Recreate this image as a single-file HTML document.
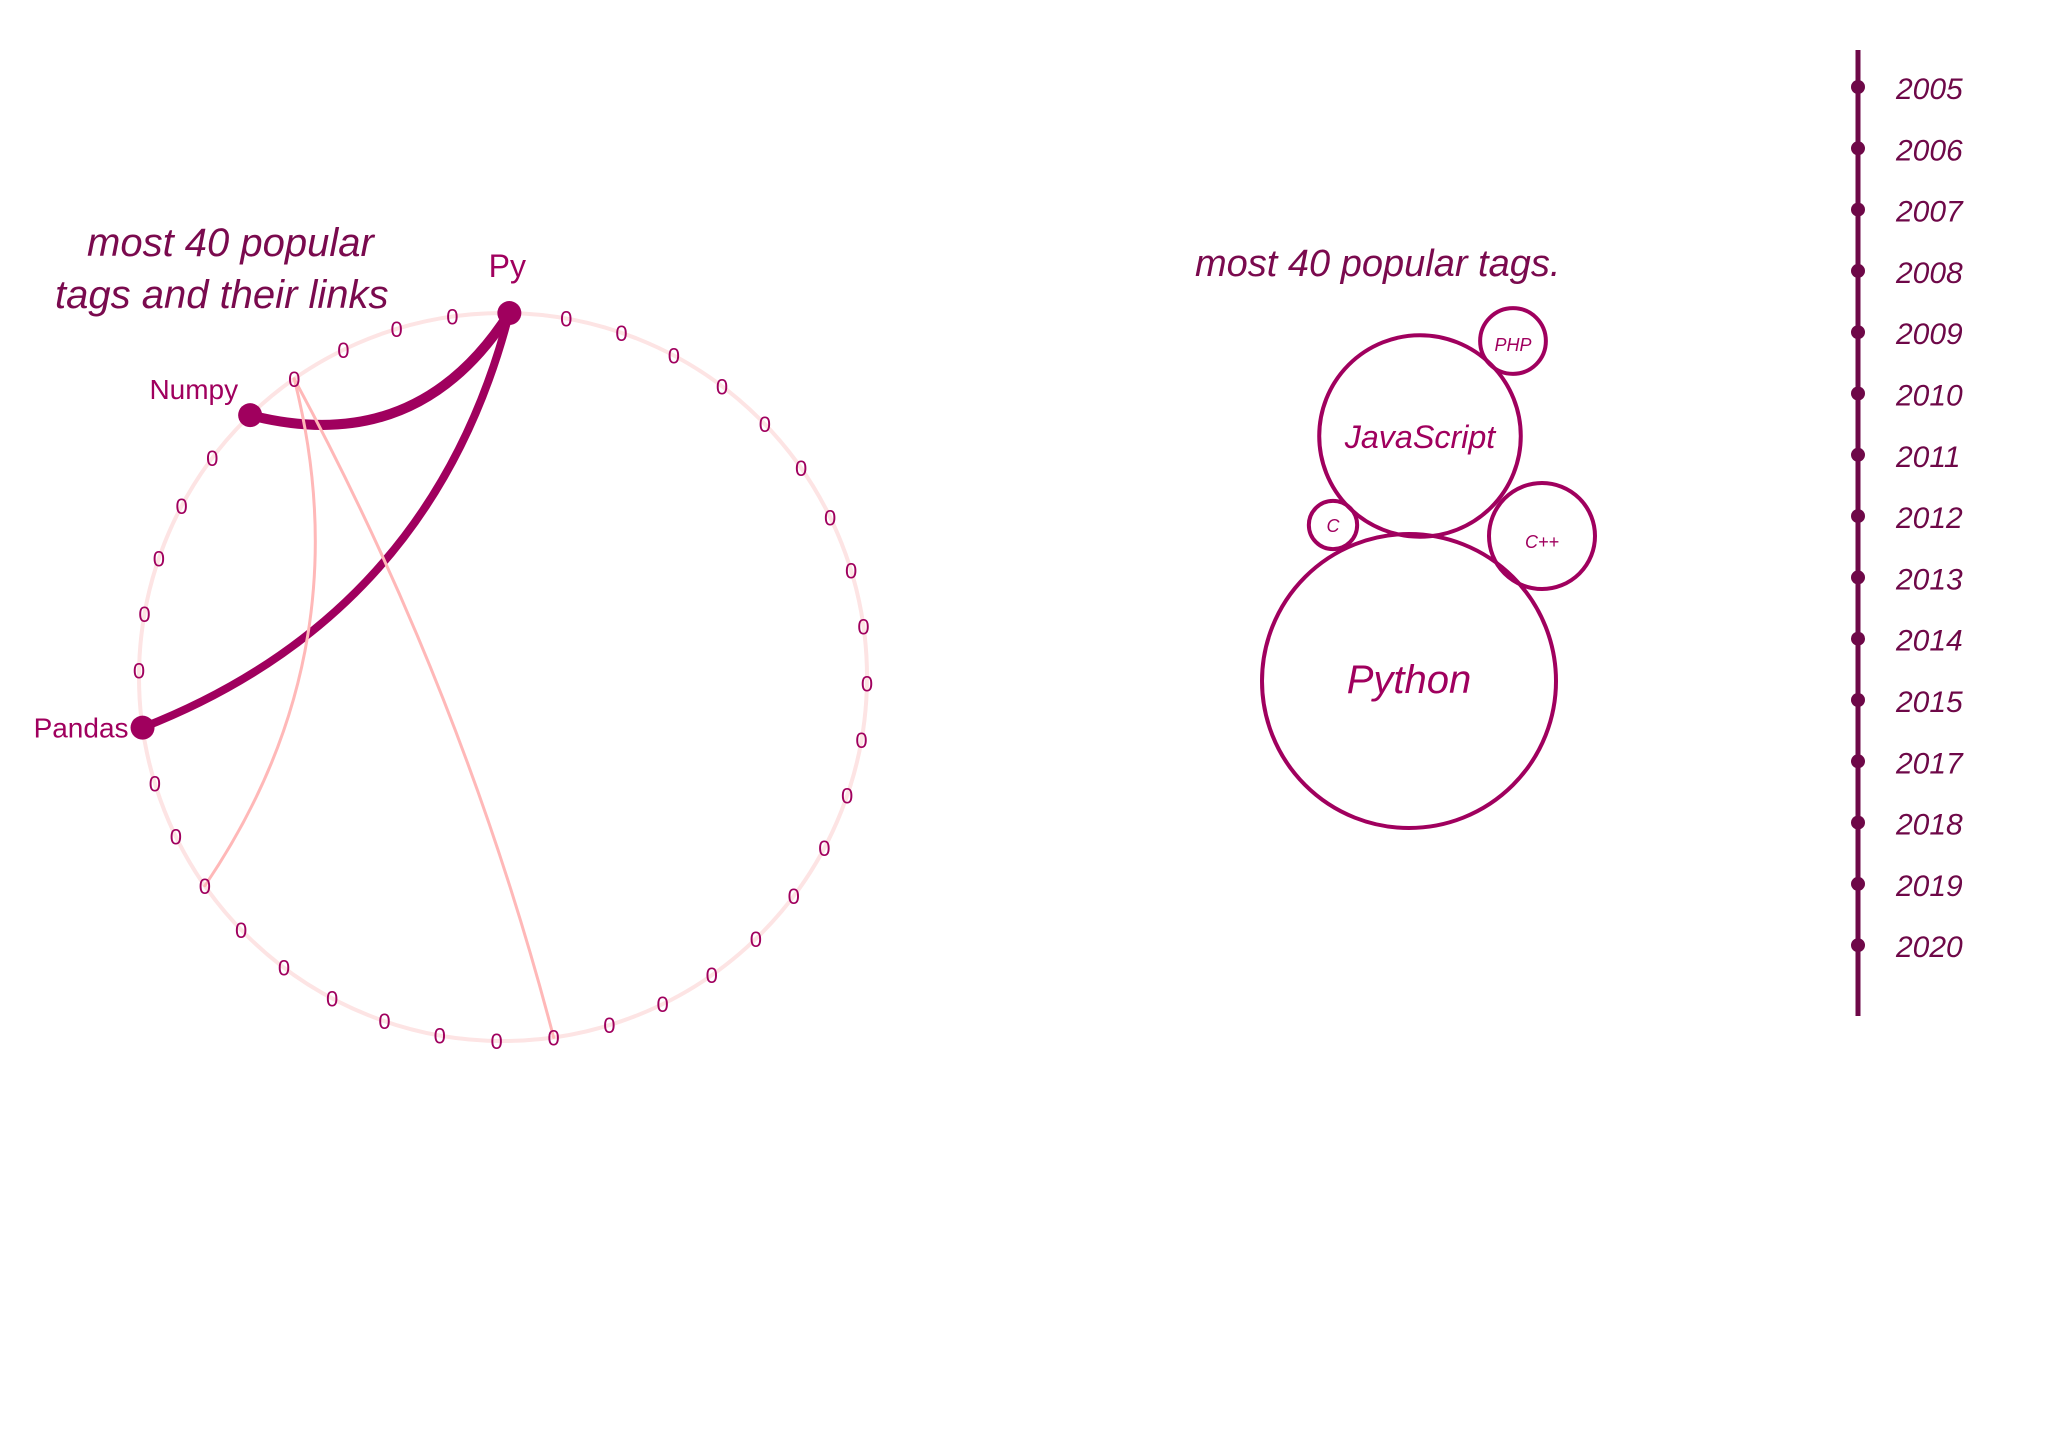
<!DOCTYPE html>
<html><head><meta charset="utf-8"><style>
html,body{margin:0;padding:0;background:#fff;}
svg{display:block;}
text{font-family:"Liberation Sans",sans-serif;}
</style></head><body>
<svg id="chart" width="2049" height="1449" viewBox="0 0 2049 1449">
<g>
<text x="87" y="256" font-size="40" fill="#7a0a4e" font-style="italic">most 40 popular</text>
<text x="55" y="308" font-size="40" fill="#7a0a4e" font-style="italic">tags and their links</text>
<circle cx="503" cy="677" r="364" fill="none" stroke="#fde4e4" stroke-width="4"/>
<g id="links"></g>
<g id="nodes"></g>
</g>
<g>
<text x="1195" y="276" font-size="38" fill="#7a0a4e" font-style="italic">most 40  popular  tags.</text>
<g id="bubbles"></g>
<g id="timeline"></g>
</g>
</svg>
<script>
const NS="http://www.w3.org/2000/svg";
// chord data
const nodeCount=40;
const namedNodes=[0,5,11];
const nodeLabels=["Py","Numpy","Pandas"];
const linkSource=[0,0,4,4];
const linkTarget=[5,11,14,21];
const linkWeight=[10,8,2,2];
const linkBend=[0.3,0.6,0.45,0.5];
// bubble data
const bubbleNames=["Python","JavaScript","C++","PHP","C"];
const bubbleValues=[100,47,13,5,2.7];
// timeline data
const years=["2005","2006","2007","2008","2009","2010","2011","2012","2013","2014","2015","2017","2018","2019","2020"];

const cx=503,cy=677,R=364;
function nodeAngle(i){return (-89-9*i)*Math.PI/180;}
function nodeX(i){return cx+R*Math.cos(nodeAngle(i));}
function nodeY(i){return cy+R*Math.sin(nodeAngle(i));}
const linksG=document.getElementById('links');
for(let k=0;k<linkSource.length;k++){
  const a=linkSource[k],b=linkTarget[k];
  const x1=nodeX(a),y1=nodeY(a),x2=nodeX(b),y2=nodeY(b);
  const mx=(x1+x2)/2,my=(y1+y2)/2;
  const qx=mx+linkBend[k]*(cx-mx),qy=my+linkBend[k]*(cy-my);
  const p=document.createElementNS(NS,'path');
  p.setAttribute('d',`M${x1},${y1} Q${qx},${qy} ${x2},${y2}`);
  p.setAttribute('fill','none');
  p.setAttribute('stroke',linkWeight[k]>4?'#a0005e':'#ffb8b8');
  p.setAttribute('stroke-width',linkWeight[k]>4?linkWeight[k]:3);
  p.setAttribute('stroke-linecap','round');
  
  
  linksG.appendChild(p);
}
const nodesG=document.getElementById('nodes');
for(let i=0;i<nodeCount;i++){
  const x=nodeX(i),y=nodeY(i);
  const ni=namedNodes.indexOf(i);
  if(ni>=0){
    const c=document.createElementNS(NS,'circle');
    c.setAttribute('cx',x);c.setAttribute('cy',y);c.setAttribute('r',12);
    c.setAttribute('fill','#a0005e');
    
    
    nodesG.appendChild(c);
    const t=document.createElementNS(NS,'text');
    const lab=nodeLabels[ni];
    t.textContent=lab;
    t.setAttribute('font-size',lab==="Py"?32:28);
    t.setAttribute('fill','#a0005e');
    if(lab==="Py"){t.setAttribute('x',x-2);t.setAttribute('y',y-36);t.setAttribute('text-anchor','middle');}
    else if(lab==="Numpy"){t.setAttribute('x',x-12);t.setAttribute('y',y-16);t.setAttribute('text-anchor','end');}
    else{t.setAttribute('x',x-14);t.setAttribute('y',y+10);t.setAttribute('text-anchor','end');}
    
    
    nodesG.appendChild(t);
  } else {
    const t=document.createElementNS(NS,'text');
    t.textContent='0';
    t.setAttribute('x',x);t.setAttribute('y',y+8);
    t.setAttribute('font-size',22);t.setAttribute('text-anchor','middle');
    t.setAttribute('fill','#a0005e');
    
    
    nodesG.appendChild(t);
  }
}
// bubbles
const bubbleCx=[1409,1420,1542,1513,1333];
const bubbleCy=[681,436,536,341,525];
function rScale(v){return 147*Math.sqrt(v/100);}
const bubG=document.getElementById('bubbles');
for(let i=0;i<bubbleNames.length;i++){
  const r=rScale(bubbleValues[i]);
  const c=document.createElementNS(NS,'circle');
  c.setAttribute('cx',bubbleCx[i]);c.setAttribute('cy',bubbleCy[i]);c.setAttribute('r',r);
  c.setAttribute('fill','none');c.setAttribute('stroke','#a0005e');c.setAttribute('stroke-width',4);
  
  
  bubG.appendChild(c);
  const t=document.createElementNS(NS,'text');
  t.textContent=bubbleNames[i];
  t.setAttribute('x',bubbleCx[i]);t.setAttribute('y',bubbleCy[i]+Math.min(12,r*0.3));
  t.setAttribute('font-size',Math.max(18,Math.min(40,r*0.32)));
  t.setAttribute('text-anchor','middle');t.setAttribute('fill','#a0005e');
  t.setAttribute('font-style','italic');
  
  
  bubG.appendChild(t);
}
// timeline
const tlX=1858,tlTop=50,tlBottom=1016,y0=87,yStep=61.3;
function yearY(i){return y0+i*yStep;}
const tlG=document.getElementById('timeline');
const ln=document.createElementNS(NS,'line');
ln.setAttribute('x1',tlX);ln.setAttribute('x2',tlX);ln.setAttribute('y1',tlTop);ln.setAttribute('y2',tlBottom);
ln.setAttribute('stroke','#6e0848');ln.setAttribute('stroke-width',5);


tlG.appendChild(ln);
for(let i=0;i<years.length;i++){
  const d=document.createElementNS(NS,'circle');
  d.setAttribute('cx',tlX);d.setAttribute('cy',yearY(i));d.setAttribute('r',7);
  d.setAttribute('fill','#6e0848');
  
  
  tlG.appendChild(d);
  const t=document.createElementNS(NS,'text');
  t.textContent=years[i];
  t.setAttribute('x',tlX+38);t.setAttribute('y',yearY(i)+12);
  t.setAttribute('font-size',30);t.setAttribute('fill','#6e0848');t.setAttribute('font-style','italic');
  
  
  tlG.appendChild(t);
}
</script>
</body></html>
